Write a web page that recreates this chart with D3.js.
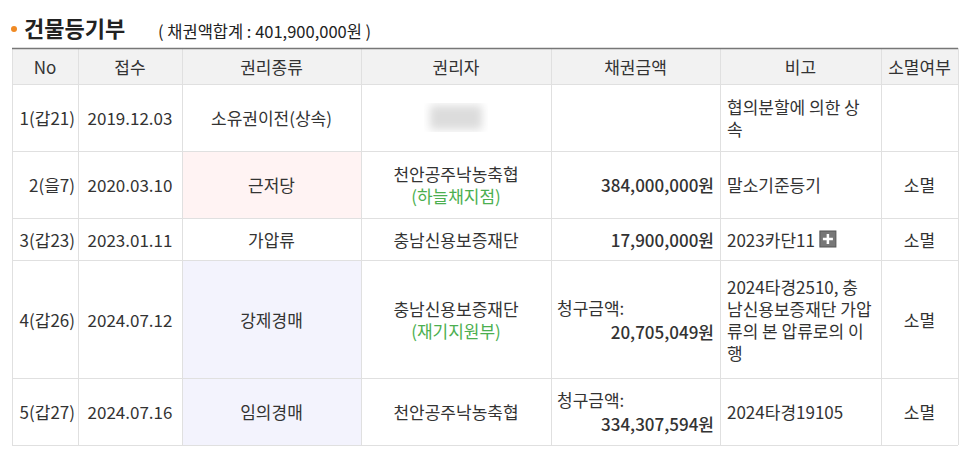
<!DOCTYPE html>
<html><head><meta charset="utf-8">
<script src="https://cdn.jsdelivr.net/npm/d3@7"></script>
<style>body{margin:0;background:#fff}svg{display:block;font-family:"Noto Sans CJK KR","Noto Sans",sans-serif}</style>
</head><body><svg id="c" width="966" height="465"></svg>
<script>
const headers = ["No","접수","권리종류","권리자","채권금액","비고","소멸여부"];
const nos = ["1(갑21)","2(을7)","3(갑23)","4(갑26)","5(갑27)"];
const dates = ["2019.12.03","2020.03.10","2023.01.11","2024.07.12","2024.07.16"];
const types = ["소유권이전(상속)","근저당","가압류","강제경매","임의경매"];
const holders = ["","천안공주낙농축협","충남신용보증재단","충남신용보증재단","천안공주낙농축협"];
const holderNotes = ["","(하늘채지점)","","(재기지원부)",""];
const amounts = [null,384000000,17900000,20705049,334307594];
const claimFlag = [false,false,false,true,true];
const notes = [["협의분할에 의한 상","속"],["말소기준등기"],["2023카단11"],["2024타경2510, 충","남신용보증재단 가압","류의 본 압류로의 이","행"],["2024타경19105"]];
const statuses = ["","소멸","소멸","소멸","소멸"];
const total = 401900000;

const svg = d3.select("#c");
const fmt = d3.format(",");
const colEdges = [12,78,182,361,551,720,881,958];
const rowEdges = [48,84,151,218,260,378,445];
const x = i => colEdges[i], y = i => rowEdges[i];
const txt = "#333";

svg.append("circle").attr("cx",14).attr("cy",29).attr("r",3).attr("fill","#f08a24");
svg.append("text").attr("x",24).attr("y",37).attr("font-size",22).attr("font-weight","bold").attr("fill","#222").text("건물등기부");
svg.append("text").attr("x",158).attr("y",38).attr("font-size",16.5).attr("fill","#222").text(`( 채권액합계 : ${fmt(total)}원 )`);

svg.append("rect").attr("x",x(0)).attr("y",y(0)).attr("width",x(7)-x(0)).attr("height",y(1)-y(0)).attr("fill","#f2f2f2");
const typeBg = ["#fff","#fff3f3","#fff","#f3f3fd","#f3f3fd"];
typeBg.forEach((c,i)=>svg.append("rect").attr("x",x(2)).attr("y",y(i+1)).attr("width",x(3)-x(2)).attr("height",y(i+2)-y(i+1)).attr("fill",c));

const g = svg.append("g").attr("stroke","#e0e0e0").attr("stroke-width",1);
rowEdges.slice(1).forEach(v=>g.append("line").attr("x1",x(0)).attr("x2",x(7)).attr("y1",v+.5).attr("y2",v+.5));
colEdges.forEach(v=>g.append("line").attr("x1",v+.5).attr("x2",v+.5).attr("y1",y(0)).attr("y2",y(6)));
svg.append("line").attr("x1",x(0)).attr("x2",x(7)).attr("y1",y(0)+.5).attr("y2",y(0)+.5).attr("stroke","#777").attr("stroke-width",1.5);

const FS = 17;
function t(xp,yp,s,anchor="middle",fill=txt,weight="normal"){
  return svg.append("text").attr("x",xp).attr("y",yp).attr("text-anchor",anchor).attr("font-size",FS).attr("fill",fill).attr("font-weight",weight).attr("dominant-baseline","central").text(s);
}
headers.forEach((h,i)=>t((x(i)+x(i+1))/2,(y(0)+y(1))/2,h));

nos.forEach((n,i)=>{
  const cy=(y(i+1)+y(i+2))/2;
  t(x(1)-3,cy,n,"end");
  t((x(1)+x(2))/2,cy,dates[i]);
  t((x(2)+x(3))/2,cy,types[i]);
  const hx=(x(3)+x(4))/2;
  if(i===0){
    svg.append("defs").append("filter").attr("id","bl").append("feGaussianBlur").attr("stdDeviation",4);
    svg.append("rect").attr("x",hx-26).attr("y",cy-12).attr("width",52).attr("height",24).attr("fill","#dcdcdc").attr("filter","url(#bl)");
  } else if(holderNotes[i]){
    t(hx,cy-11,holders[i]); t(hx,cy+11,holderNotes[i],"middle","#4caf50");
  } else t(hx,cy,holders[i]);
  if(amounts[i]!=null){
    if(claimFlag[i]){
      t(x(4)+6,cy-12,"청구금액:","start");
      t(x(5)-6,cy+12,fmt(amounts[i])+"원","end",txt,"500");
    } else t(x(5)-6,cy,fmt(amounts[i])+"원","end",txt,"500");
  }
  const ls=notes[i], lh=22;
  let last;
  ls.forEach((l,k)=>last=t(x(5)+7,cy+(k-(ls.length-1)/2)*lh,l,"start"));
  if(i===2){
    const bx = x(5)+7+last.node().getComputedTextLength()+5;
    svg.append("rect").attr("x",bx).attr("y",cy-8).attr("width",16).attr("height",16).attr("fill","#777").attr("stroke","#555");
    svg.append("path").attr("d",`M${bx+8},${cy-5}v10M${bx+3},${cy}h10`).attr("stroke","#fff").attr("stroke-width",2.5);
  }
  t((x(6)+x(7))/2,cy,statuses[i]);
});
</script></body></html>
